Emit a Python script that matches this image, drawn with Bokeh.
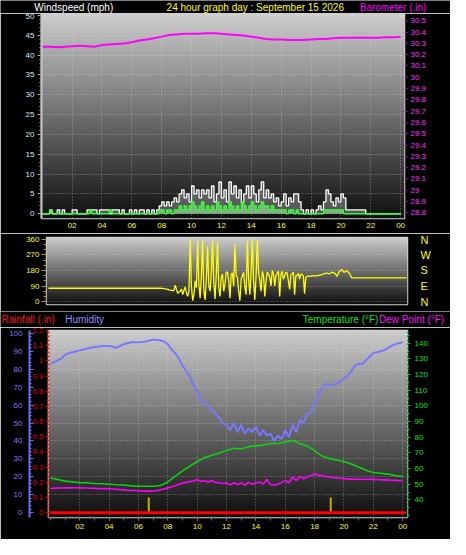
import numpy as np
from bokeh.plotting import figure
from bokeh.models import Range1d, LinearAxis, FixedTicker
from bokeh.core.properties import value
from bokeh.layouts import column, row
from bokeh.embed import file_html
from bokeh.resources import INLINE

# ---------------- data ----------------
hour_ticks = [2, 4, 6, 8, 10, 12, 14, 16, 18, 20, 22, 24]
hour_labels = ["02", "04", "06", "08", "10", "12", "14", "16", "18", "20", "22", "00"]

# wind (10-minute samples, mph)
wind_gust = [
    0, 0, 0, 1, 0, 0,   1, 0, 1, 0, 0, 0,   1, 1, 0, 0, 0, 0,   1, 1, 1, 1, 0, 1,
    1, 1, 1, 0, 1, 1,   1, 0, 1, 0, 0, 1,   0, 1, 0, 1, 1, 0,   1, 0, 1, 0, 1, 2,
    3, 2, 3, 2, 3, 4,   3, 5, 6, 4, 5, 3,   7, 5, 6, 4, 6, 5,   6, 4, 7, 3, 5, 8,
    4, 6, 3, 8, 5, 7,   4, 6, 3, 5, 7, 4,   7, 5, 3, 6, 8, 4,   6, 4, 5, 3, 4, 2,
    3, 5, 2, 4, 3, 5,   5, 3, 1, 0, 1, 0,   1, 0, 1, 2, 1, 3,   6, 5, 3, 2, 4, 3,
    5, 4, 1, 1, 1, 1,   1, 1, 1, 1, 0, 0,   0, 0, 0, 0, 0, 0,   0, 0, 0, 0, 0, 0,
    0]
wind_avg = [
    0, 0, 0, 1, 0, 0,   0, 0, 0, 0, 0, 0,   0, 0, 0, 0, 0, 0,   0, 1, 0, 0, 0, 0,
    0, 0, 0, 1, 0, 0,   0, 0, 0, 0, 0, 0,   0, 0, 0, 0, 0, 0,   0, 0, 0, 0, 0, 1,
    1, 0, 1, 1, 0, 1,   1, 2, 1, 2, 1, 2,   3, 2, 1, 2, 3, 1,   2, 1, 2, 1, 3, 2,
    1, 2, 1, 3, 2, 1,   2, 1, 3, 2, 1, 2,   3, 2, 1, 2, 3, 2,   2, 1, 2, 1, 1, 1,
    1, 1, 0, 1, 1, 0,   1, 0, 0, 0, 0, 0,   0, 0, 0, 0, 0, 1,   1, 1, 1, 1, 1, 1,
    1, 0, 0, 0, 0, 0,   0, 0, 0, 0, 0, 0,   0, 0, 0, 0, 0, 0,   0, 0, 0, 0, 0, 0,
    0]
# wind direction (5-minute samples, degrees), one row per hour
wind_dir = [
    77, 77, 77, 77, 77, 77, 77, 77, 77, 77, 77, 77,
    77, 77, 77, 77, 77, 77, 77, 77, 77, 77, 77, 77,
    77, 77, 77, 77, 77, 77, 77, 77, 77, 77, 77, 77,
    77, 77, 77, 77, 77, 77, 77, 77, 77, 77, 77, 77,
    77, 77, 77, 77, 77, 77, 77, 77, 77, 77, 77, 77,
    77, 77, 77, 77, 77, 77, 77, 77, 77, 77, 77, 77,
    77, 77, 77, 77, 77, 77, 77, 77, 77, 77, 77, 77,
    77, 77, 77, 77, 77, 77, 77, 76, 76, 75, 74, 72,
    70, 68, 66, 65, 64, 66, 95, 70, 48, 55, 60, 72,
    40, 65, 85, 50, 30, 60, 360, 90, 5, 40, 120, 80,
    350, 100, 20, 150, 355, 60, 10, 130, 320, 90, 60, 170,
    355, 110, 15, 160, 340, 80, 30, 140, 160, 60, 100, 170,
    170, 120, 20, 160, 165, 90, 330, 150, 140, 60, 5, 130,
    150, 170, 80, 40, 350, 130, 40, 165, 360, 120, 10, 150,
    355, 170, 120, 60, 175, 150, 30, 120, 170, 160, 140, 90,
    180, 160, 90, 150, 165, 175, 30, 160, 175, 130, 150, 170,
    165, 120, 70, 155, 160, 170, 40, 150, 150, 165, 130, 160,
    155, 150, 45, 140, 145, 150, 145, 148, 148, 150, 150, 148,
    150, 152, 152, 155, 155, 160, 160, 165, 165, 162, 160, 165,
    170, 168, 165, 160, 145, 160, 175, 180, 185, 175, 170, 175,
    180, 170, 165, 150, 137, 137, 137, 137, 137, 137, 137, 137,
    137, 137, 137, 137, 137, 137, 137, 137, 137, 137, 137, 137,
    137, 137, 137, 137, 137, 137, 137, 137, 137, 137, 137, 137,
    137, 137, 137, 137, 137, 137, 137, 137, 137, 137, 137, 137,
    137]
# barometer (30-minute samples, in)
baro = [30.27, 30.27, 30.265, 30.27, 30.275, 30.28, 30.275, 30.27, 30.285, 30.29,
        30.295, 30.30, 30.31, 30.325, 30.335, 30.345, 30.36, 30.375, 30.38, 30.385,
        30.385, 30.385, 30.39, 30.39, 30.385, 30.38, 30.375, 30.37, 30.36, 30.35,
        30.34, 30.335, 30.335, 30.33, 30.33, 30.33, 30.335, 30.34, 30.34, 30.345,
        30.35, 30.35, 30.35, 30.35, 30.35, 30.35, 30.355, 30.355, 30.36]
# temperature (30-minute samples, F)
temperature = [54, 53, 52, 51.5, 51, 51, 50.5, 50.3, 50, 49.7, 49.5, 49, 48.8, 48.7,
               48.7, 49.2, 51.5, 55, 58.5, 61.5, 64.5, 67, 68.5, 70, 71.5, 73, 72.5, 74,
               74.5, 75, 76, 76, 77, 78, 76, 74.5, 71.5, 68, 66.5, 65.5, 64.5, 63, 61, 59,
               57.5, 57, 56.5, 55.5, 55]
# humidity (15-minute samples, %)
humidity = [83, 84, 85, 86, 88, 89, 89.5, 90, 90.5, 91, 91.5, 92, 92.5, 92.5, 93, 93,
            93, 92.5, 92, 93, 94, 94.5, 95, 95, 95, 95.2, 95.5, 96, 96.5, 96.5, 96, 95.5,
            94, 91, 89, 86, 82, 79, 76, 71, 68, 63, 61, 60, 57, 55, 53, 50,
            49, 46, 50, 45, 49, 44, 47, 45, 48, 43, 46, 43, 44, 40, 43, 41,
            46, 42, 49, 45, 52, 50, 55, 56, 61, 66, 69, 72, 71, 71.5, 72, 73,
            75, 76, 79, 82, 83, 83, 85, 87, 89, 89.5, 90, 90.5, 92, 93, 94, 94.5, 95]
# dew point (15-minute samples, F)
dew_point = [47.3, 47.5, 47.6, 47.6, 47.7, 47.7, 47.8, 47.8, 47.7, 47.6, 47.6, 47.5,
             47.4, 47.3, 47.2, 47.2, 47.1, 47.0, 46.8, 46.6, 46.4, 46.2, 46.0, 46.0,
             45.9, 45.8, 45.6, 45.6, 45.7, 46.0, 46.5, 47.0, 47.7, 48.3, 49.0, 50.0,
             50.6, 51.2, 51.8, 52.0, 53.0, 51.8, 52.2, 51.5, 52.4, 51.2, 51.0, 50.5,
             50.8, 49.6, 51.0, 49.8, 50.9, 49.5, 51.2, 50.0, 50.8, 51.5, 50.2, 53.0,
             49.7, 49.5, 50.0, 51.2, 52.5, 51.0, 54.5, 52.5, 55.0, 53.5, 54.8, 55.5,
             56.6, 56.0, 55.4, 55.0, 54.6, 54.3, 54.0, 53.8, 53.6, 53.4, 53.3, 53.2,
             53.2, 53.2, 53.2, 53.2, 53.1, 53.0, 52.9, 52.8, 52.7, 52.6, 52.5, 52.4, 52.4]
rain_hours = [0, 24.2]
rainfall = [0.0, 0.0]
rain_mark_hours = [6.7, 19.1]
rain_mark_vals = [0.1, 0.1]

wind_ticks = [0, 5, 10, 15, 20, 25, 30, 35, 40, 45, 50]
baro_ticks = [28.8, 28.9, 29.0, 29.1, 29.2, 29.3, 29.4, 29.5, 29.6, 29.7, 29.8, 29.9,
              30.0, 30.1, 30.2, 30.3, 30.4, 30.5]
dir_ticks = [0, 90, 180, 270, 360]
compass_labels = ["N", "W", "S", "E", "N"]
compass_degrees = [360, 270, 180, 90, 0]
hum_ticks = [0, 10, 20, 30, 40, 50, 60, 70, 80, 90, 100]
rain_ticks = [0.0, 0.1, 0.2, 0.3, 0.4, 0.5, 0.6, 0.7, 0.8, 0.9, 1.0, 1.1, 1.2]
temp_ticks = [40, 50, 60, 70, 80, 90, 100, 110, 120, 130, 140]

title_texts = ["Windspeed (mph)", "24 hour graph day : September 15 2026", "Barometer (.in)"]
title_colors = ["#ffffff", "#ffff00", "#ff00ff"]
legend_texts = ["Rainfall (.in)", "Humidity", "Temperature (°F)", "Dew Point (°F)"]
legend_colors = ["#ff1010", "#8c8cff", "#10e010", "#ff10ff"]

t10 = np.linspace(0, 24, len(wind_gust))
t5 = np.linspace(0, 24, len(wind_dir))
t30 = np.linspace(0, 24, len(baro))
t15 = np.linspace(0, 24, len(humidity))

# ---------------- styling helpers ----------------
FONT = "Liberation Sans"
W = 450
SX = 450 / 466
SY = 539 / 555


def gradient(top, bottom, n=240):
    img = np.empty((n, 1), dtype=np.uint32)
    v = img.view(dtype=np.uint8).reshape((n, 1, 4))
    f = np.linspace(0, 1, n)
    for k in range(3):
        v[:, 0, k] = (bottom[k] + (top[k] - bottom[k]) * f).astype(np.uint8)
    v[:, 0, 3] = 255
    return img


def add_bg(p, xr, yr, top, bottom):
    p.image_rgba(image=[gradient(top, bottom)], x=xr.start, y=yr.start,
                 dw=xr.end - xr.start, dh=yr.end - yr.start, level="image")


def base_fig(h, xr, yr, l, r, t, b, **kw):
    p = figure(width=W, height=h, x_range=xr, y_range=yr, output_backend="svg",
               toolbar_location=None, min_border_left=l, min_border_right=r,
               min_border_top=t, min_border_bottom=b,
               background_fill_color="black", border_fill_color="black",
               outline_line_color="#d4d4d4", outline_line_width=1.5, **kw)
    return p


def strip(h):
    s = figure(width=W, height=h, x_range=Range1d(0, W), y_range=Range1d(0, h),
               output_backend="svg", toolbar_location=None, x_axis_location=None,
               y_axis_location=None, min_border_left=0, min_border_right=0,
               min_border_top=0, min_border_bottom=0, background_fill_color="black",
               border_fill_color="black", outline_line_color=None)
    s.grid.visible = False
    return s


def style_axis(ax, color, tick_color, size="8px"):
    ax.major_label_text_color = color
    ax.major_label_text_font = FONT
    ax.major_label_text_font_size = size
    ax.major_tick_line_color = tick_color
    ax.minor_tick_line_color = tick_color


def grid_style(g):
    g.grid_line_color = "#e0e0e0"
    g.grid_line_alpha = 0.45
    g.grid_line_dash = "1 2"

# ---------------- title strip ----------------
TH = 13
ts = strip(TH)
ts.text(x=[35 * SX, 172 * SX, 372 * SX], y=[6.5] * 3, text=title_texts,
        text_color=title_colors, text_font=value(FONT), text_font_size="10px",
        text_baseline="middle", text_align="left")

# ---------------- top: wind speed + barometer ----------------
x1 = Range1d(-0.05, 24.26)
y1 = Range1d(-1.2, 50.5)
p1 = base_fig(233 - TH, x1, y1, 41, 46, 0, 15)
p1.extra_y_ranges = {"baro": Range1d(28.749, 30.565)}
add_bg(p1, x1, y1, (205, 205, 205), (16, 16, 16))

ax = p1.xaxis[0]
ax.ticker = FixedTicker(ticks=hour_ticks)
ax.major_label_overrides = dict(zip(hour_ticks, hour_labels))
style_axis(ax, "#ffff00", None)
ax.axis_line_color = None
ax.major_tick_out = 0
ax.major_tick_in = 0
ax.minor_tick_out = 0
ax.major_label_standoff = 4

ay = p1.yaxis[0]
ay.ticker = FixedTicker(ticks=wind_ticks, minor_ticks=list(range(0, 51)))
style_axis(ay, "#d8ecff", "#a8a8a8")
ay.axis_line_color = "#c8c8c8"
ay.axis_line_width = 2
ay.major_tick_out = 4
ay.minor_tick_out = 2
ay.major_tick_in = 0
ay.minor_tick_in = 0
ay.major_label_standoff = 3

ab = LinearAxis(y_range_name="baro", ticker=FixedTicker(ticks=baro_ticks))
style_axis(ab, "#ff30ff", "#b000b0")
ab.axis_line_color = None
ab.major_tick_out = 3
ab.major_tick_in = 0
ab.minor_tick_out = 0
ab.major_label_standoff = 3
p1.add_layout(ab, "right")

p1.xgrid.ticker = FixedTicker(ticks=hour_ticks)
p1.ygrid.ticker = FixedTicker(ticks=wind_ticks)
grid_style(p1.xgrid[0])
grid_style(p1.ygrid[0])

p1.line(t30, baro, y_range_name="baro", line_color="#ff00ff", line_width=2)
p1.varea_step(x=t10, y1=0, y2=wind_gust, step_mode="after", fill_color="#d0d0d0", fill_alpha=0.35)
p1.step(t10, wind_gust, mode="after", line_color="#ffffff", line_width=1.3)
p1.varea_step(x=t10, y1=0, y2=wind_avg, step_mode="after", fill_color="#a0ffa0", fill_alpha=0.55)
p1.step(t10, wind_avg, mode="after", line_color="#30ff30", line_width=1.3)

# ---------------- middle: wind direction ----------------
x2 = Range1d(-0.13, 24.065)
y2 = Range1d(-17, 371)
p2 = base_fig(78, x2, y2, 46, 43, 4, 7)
add_bg(p2, x2, y2, (205, 205, 205), (14, 14, 14))
p2.xaxis.visible = False
ay2 = p2.yaxis[0]
ay2.ticker = FixedTicker(ticks=dir_ticks, minor_ticks=[0, 30, 60, 90, 120, 150, 180, 210, 240, 270, 300, 330, 360])
style_axis(ay2, "#ffff00", "#a8a000")
ay2.axis_line_color = None
ay2.major_tick_out = 5
ay2.minor_tick_out = 3
ay2.major_tick_in = 0
ay2.minor_tick_in = 0
ay2.major_label_standoff = 2

ac = LinearAxis(ticker=FixedTicker(ticks=compass_degrees))
ac.major_label_overrides = dict(zip(compass_degrees, compass_labels))
style_axis(ac, "#ffff00", None, size="11px")
ac.axis_line_color = None
ac.major_tick_out = 0
ac.major_tick_in = 0
ac.minor_tick_out = 0
ac.minor_tick_in = 0
ac.major_label_standoff = 13
p2.add_layout(ac, "right")

p2.xgrid.visible = False
p2.ygrid.ticker = FixedTicker(ticks=dir_ticks)
grid_style(p2.ygrid[0])
p2.line(t5, wind_dir, line_color="#ffff00", line_width=1.3)

# ---------------- legend strip ----------------
LH = 16
ls = strip(LH)
ls.text(x=[1 * SX, 67 * SX, 313 * SX, 392 * SX], y=[8] * 4, text=legend_texts,
        text_color=legend_colors, text_font=value(FONT), text_font_size="10px",
        text_baseline="middle", text_align="left")

# ---------------- bottom: humidity, rain, temperature, dew point ----------------
x3 = Range1d(-0.13, 24.33)
y3 = Range1d(-2.7, 101.6)
p3 = base_fig(228 - LH, x3, y3, 48, 43, 3, 22, y_axis_location=None)
p3.extra_y_ranges = {"rain": Range1d(-0.032, 1.201), "temp": Range1d(28.8, 148.1)}
add_bg(p3, x3, y3, (205, 205, 205), (14, 14, 14))

ax3 = p3.xaxis[0]
ax3.ticker = FixedTicker(ticks=hour_ticks, minor_ticks=list(range(0, 25)))
ax3.major_label_overrides = dict(zip(hour_ticks, hour_labels))
style_axis(ax3, "#ffff00", "#707070")
ax3.axis_line_color = None
ax3.major_tick_out = 3
ax3.minor_tick_out = 3
ax3.major_tick_in = 0
ax3.minor_tick_in = 0
ax3.major_label_standoff = 3

ar = LinearAxis(y_range_name="rain", ticker=FixedTicker(ticks=rain_ticks))
style_axis(ar, "#e00000", "#e00000")
ar.axis_line_color = "#ff2020"
ar.axis_line_dash = "2 2"
ar.axis_line_width = 2
ar.major_tick_out = 3
ar.major_tick_in = 0
ar.minor_tick_out = 0
ar.major_label_standoff = 2
p3.add_layout(ar, "left")

ah = LinearAxis(ticker=FixedTicker(ticks=hum_ticks, minor_ticks=list(range(0, 101, 2))))
style_axis(ah, "#7c7cff", "#6c6cff")
ah.axis_line_color = "#6c6cff"
ah.axis_line_width = 2
ah.major_tick_out = 0
ah.major_tick_in = 4
ah.minor_tick_out = 0
ah.minor_tick_in = 2
ah.major_label_standoff = 7
p3.add_layout(ah, "left")

at = LinearAxis(y_range_name="temp", ticker=FixedTicker(ticks=temp_ticks, minor_ticks=list(range(30, 150, 5))))
style_axis(at, "#10e010", "#10c010")
at.axis_line_color = "#10c010"
at.axis_line_dash = "2 2"
at.major_tick_out = 3
at.minor_tick_out = 2
at.major_tick_in = 0
at.minor_tick_in = 0
at.major_label_standoff = 4
p3.add_layout(at, "right")

p3.xgrid.ticker = FixedTicker(ticks=hour_ticks)
p3.ygrid.ticker = FixedTicker(ticks=hum_ticks)
grid_style(p3.xgrid[0])
grid_style(p3.ygrid[0])

p3.line(t15, humidity, line_color="#7878ff", line_width=2)
p3.line(t30, temperature, y_range_name="temp", line_color="#10d010", line_width=1.6)
p3.line(t15, dew_point, y_range_name="temp", line_color="#ff00ff", line_width=1.6)
p3.segment(x0=rain_mark_hours, y0=[0, 0], x1=rain_mark_hours, y1=rain_mark_vals,
           y_range_name="rain", line_color="#c0b000", line_width=2)
p3.line(rain_hours, rainfall, y_range_name="rain", line_color="#ff0000", line_width=3)

layout = column(row(ts), row(p1), row(p2), row(ls), row(p3), spacing=0)
open("out.html", "w").write(file_html(layout, INLINE))
